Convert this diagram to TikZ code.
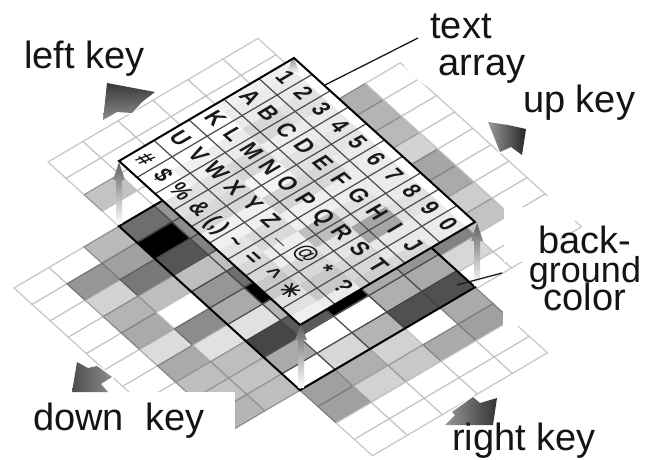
\documentclass[tikz,border=0pt]{standalone}
\usepackage{fontspec}
\setmainfont{Liberation Sans}
\newfontfamily\symfont[FakeBold=2.5]{DejaVu Sans}
\newcommand{\Lp}[2]{({14+18.1*(#1)+35*(#2)},{288+16.4*(#1)-20.6*(#2)})}
\newcommand{\Bp}[2]{({48+18.1*(#1)+35*(#2)},{162+16.4*(#1)-20.6*(#2)})}
\newcommand{\Ap}[2]{({294+18.1*(#1)-35*(#2)},{58+16.4*(#1)+20.6*(#2)})}
\newcommand{\graycell}[3]{% i r g, macro for point: \cellpt
  \pgfmathtruncatemacro{\ee}{#3*0.78}%
  \filldraw[line width=1.2pt,fill={rgb,255:red,#3;green,#3;blue,#3},draw={rgb,255:red,\ee;green,\ee;blue,\ee}]
   \cellpt{#1}{#2} -- \cellpt{#1+1}{#2} -- \cellpt{#1+1}{#2+1} -- \cellpt{#1}{#2+1} -- cycle;}
\tikzset{
  label/.style={inner sep=0pt,font=\fontsize{38}{38}\selectfont,text=black!92},
  glyph/.style={inner sep=0pt,text height=17pt,text depth=0pt,font=\fontsize{24}{24}\selectfont\bfseries,
     cm={.63,-.571,.862,.507,(0,0)},text=black!90},
  leader/.style={line width=1.3pt,draw=black!90},
  vshaft/.style={top color=black!62,bottom color=white,draw=none},
  bigarrow/.style={draw=none},
  arrline/.style={line width=1.2pt,draw=black!70},
  boldline/.style={line width=2pt,draw=black},
  inline/.style={line width=1.1pt,draw=black!72},
}
\begin{document}
\begin{tikzpicture}[x=1pt,y=-1pt]
\useasboundingbox (0,0) rectangle (649,459);
\fill[white] (0,0) rectangle (649,459);
% ---------- back plane
\let\cellpt\Bp
\foreach[count=\r from 0] \row in {
 {255,255,195,255,255,255,255,255,255,255,255,255,255,255},
 {255,255,255,255,255,255,255,255,255,255,255,255,255,255},
 {255,255,255,255,255,255,255,255,255,255,255,255,255,255},
 {255,255,255,255,255,255,255,255,255,255,255,255,255,255},
 {255,255,255,255,255,255,255,255,255,255,255,255,255,255},
 {255,255,255,255,255,255,255,255,255,255,255,130,215,255},
 {-1,-1,-1,-1,175,180,185,210,165,170,205,195,255,255},
 {-1,-1,-1,-1,255,255,255,255,255,255,255,255,255,255}}{
  \foreach[count=\i from 0] \g in \row {
    \ifnum\g>-1 \graycell{\i}{\r}{\g}\fi
  }
}
\fill[white] (503.5,207) rectangle (560,262);
\fill[white] (547,196) -- (575,196) -- (575,225) -- (547,225) -- cycle;
\fill[white] (404,66) -- (418,80) -- (441,96) -- (452,90) -- (430,68) -- (417,60) -- cycle;
% ---------- lower plane
\let\cellpt\Lp
\foreach[count=\r from 0] \row in {
 {255,255,255,255,255,255,255,255,255,255,-1,-1,-1,-1},
 {255,150,210,180,170,220,170,190,195,180,-1,-1,-1,-1},
 {185,160,120,190,255,140,225,190,195,190,-1,-1,-1,-1},
 {110,0,85,190,150,170,225,70,170,255,160,160,255,255},
 {150,140,130,190,110,0,180,90,255,215,175,210,255,255},
 {200,200,200,200,200,200,200,0,255,180,210,200,255,255},
 {200,200,200,200,200,200,200,170,175,80,255,170,255,255},
 {200,200,200,200,200,200,200,150,170,80,170,160,255,255}}{
  \foreach[count=\i from 0] \g in \row {
    \ifnum\g>-1 \graycell{\i}{\r}{\g}\fi
  }
}
\fill[white] (502.5,296) rectangle (518,332);
% bold rectangle
\foreach \i in {1,...,9} \draw[inline] \Lp{\i}{3} -- \Lp{\i}{8};
\foreach \r in {4,...,7} \draw[inline] \Lp{0}{\r} -- \Lp{10}{\r};
\draw[boldline] \Lp{0}{3} -- \Lp{10}{3} -- \Lp{10}{8} -- \Lp{0}{8} -- cycle;
% white panel behind the down key label
\fill[white] (0,392) rectangle (235,459);
% ---------- text array layer
\begin{scope}
 \clip \Ap{0}{0} -- \Ap{10}{0} -- \Ap{10}{5} -- \Ap{0}{5} -- cycle;
 \fill[white] \Ap{0}{0} -- \Ap{10}{0} -- \Ap{10}{5} -- \Ap{0}{5} -- cycle;
 \foreach[count=\r from 0] \row in {
  {255,255,255,255,205,225,215,228,222,205,225,240,255,255},
  {255,255,255,255,225,215,240,228,215,200,225,240,255,255},
  {255,255,255,240,225,215,240,218,238,215,200,235,255,255},
  {255,255,255,235,215,245,212,240,190,228,215,205,255,255},
  {245,240,235,215,238,225,215,238,225,165,232,215,255,255},
  {245,240,235,225,235,228,235,235,235,225,235,235,255,255}}{
  \foreach[count=\i from 0] \g in \row {
    \fill[fill={rgb,255:red,\g;green,\g;blue,\g}] \Bp{\i}{\r} -- \Bp{\i+1}{\r} -- \Bp{\i+1}{\r+1} -- \Bp{\i}{\r+1} -- cycle;
  }
 }
 \shade[top color=black!45,bottom color=white] (293,56) -- (300,74) -- (286,74) -- cycle;
\end{scope}
\foreach \i in {1,...,9} \draw[arrline] \Ap{\i}{0} -- \Ap{\i}{5};
\foreach \k in {1,...,4} \draw[arrline] \Ap{0}{\k} -- \Ap{10}{\k};
\draw[boldline] \Ap{0}{0} -- \Ap{10}{0} -- \Ap{10}{5} -- \Ap{0}{5} -- cycle;
% glyphs
\foreach[count=\k from 0] \row in {
 {1,2,3,4,5,6,7,8,9,0},
 {A,B,C,D,E,F,G,H,I,J},
 {K,L,M,N,O,P,Q,R,S,T},
 {U,V,W,X,Y,Z,\_,@,*,?},
 {\#,\$,\%,\&,(,),\textasciitilde,=,\textasciicircum,{\symfont ✳}}}{
  \foreach[count=\c from 0] \t in \row {
    \node[glyph] (g\k c\c) at \Ap{\c+.5}{\k+.5} {\t};
  }
}
% vertical arrows
\shade[vshaft] (119,162) -- (125,180) -- (122,180) -- (122,224) -- (116,224) -- (116,180) -- (113,180) -- cycle;
\shade[vshaft] (477,223) -- (483,241) -- (480,241) -- (480,286) -- (474,286) -- (474,241) -- (471,241) -- cycle;
\shade[vshaft] (301,324) -- (307,340) -- (304,340) -- (304,388) -- (298,388) -- (298,340) -- (295,340) -- cycle;
% big arrows
\draw[white,line width=3pt,fill=white] (107,83) -- (155,92) -- (142,102) -- (132,113) -- (117,112) -- (103,120) -- cycle;
\shade[bigarrow,top color=black!78,bottom color=black!45] (107,83) -- (155,92) -- (142,102) -- (132,113) -- (117,112) -- (103,120) -- cycle;
\draw[white,line width=3pt,fill=white] (526,129) -- (522,155) -- (511,147) -- (500,152) -- (488,122) -- (508,125) -- cycle;
\shade[bigarrow,left color=black!40,right color=black!85] (526,129) -- (522,155) -- (511,147) -- (500,152) -- (488,122) -- (508,125) -- cycle;
\draw[white,line width=3pt,fill=white] (77,362) -- (88,368) -- (97,366) -- (112,377) -- (101,384) -- (108,392) -- (72,392) -- cycle;
\shade[bigarrow,left color=black!70,right color=black!45] (77,362) -- (88,368) -- (97,366) -- (112,377) -- (101,384) -- (108,392) -- (72,392) -- cycle;
\draw[white,line width=3pt,fill=white] (497,398) -- (493,425) -- (445,425) -- (455,415) -- (452,412) -- (473,397) -- (480,403) -- cycle;
\shade[bigarrow,left color=black!40,right color=black!80] (497,398) -- (493,425) -- (445,425) -- (455,415) -- (452,412) -- (473,397) -- (480,403) -- cycle;
% labels
\node[label,anchor=base west] (lk) at (24,68) {left key};
\node[label,anchor=base] (tx) at (461,38) {text};
\node[label,anchor=base] (ar) at (482,75) {array};
\node[label,anchor=base west] (uk) at (523,112) {up key};
\node[label,anchor=base] (bk) at (585,253) {back-};
\node[label,anchor=base,font=\fontsize{36}{36}\selectfont] (gr) at (585,282) {ground};
\node[label,anchor=base] (co) at (585,310) {color};
\node[label,anchor=base west] (dk) at (33,430) {down\ \ key};
\node[label,anchor=base west] (rk) at (452,450) {right key};
% leaders
\coordinate (la) at (325,85);
\coordinate (lb) at (418,38);
\coordinate (lc) at (457,285);
\coordinate (ld) at (502,273);
\draw[leader] (la) -- (lb);
\draw[leader] (lc) -- (ld);
\end{tikzpicture}
\end{document}
